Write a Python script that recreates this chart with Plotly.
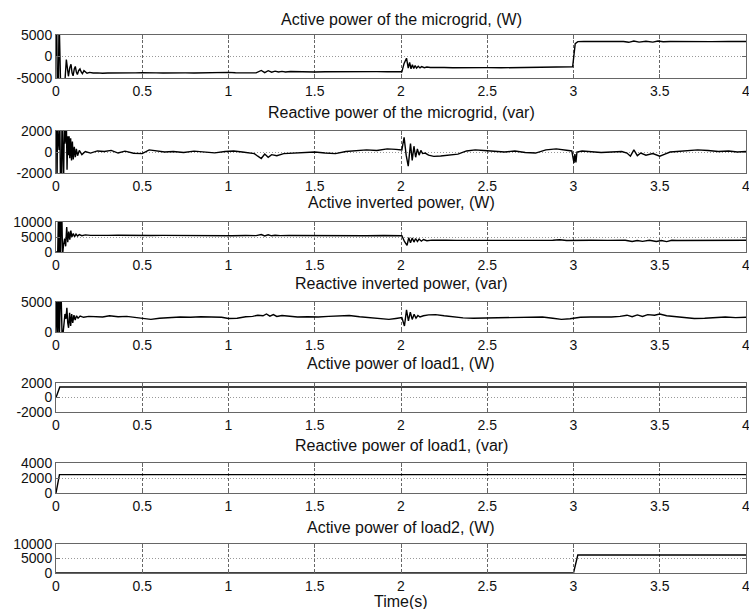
import plotly.graph_objects as go

# ---------------- data ----------------
x_ticks = [0, 0.5, 1, 1.5, 2, 2.5, 3, 3.5, 4]
x_tick_labels = ["0", "0.5", "1", "1.5", "2", "2.5", "3", "3.5", "4"]

# 1. Active power of the microgrid (W)
t_p_mg = [
    0.000, 0.004, 0.008, 0.013, 0.018, 0.021, 0.024, 0.028, 0.040, 0.052,
    0.060, 0.066, 0.072, 0.080, 0.087, 0.093, 0.099, 0.106, 0.112, 0.118,
    0.124, 0.131, 0.139, 0.146, 0.153, 0.162, 0.170, 0.180, 0.195, 0.215,
    0.24, 0.27, 0.30, 0.34, 0.38, 0.42, 0.46, 0.50, 0.54, 0.58,
    0.62, 0.66, 0.70, 0.75, 0.80, 0.85, 0.90, 0.95, 1.00, 1.04,
    1.08, 1.12, 1.16, 1.19, 1.21, 1.23, 1.25, 1.27, 1.29, 1.31,
    1.33, 1.36, 1.40, 1.45, 1.50, 1.56, 1.62, 1.68, 1.74, 1.80,
    1.86, 1.92, 1.97, 2.005, 2.018, 2.032, 2.042, 2.050, 2.058, 2.066,
    2.074, 2.082, 2.090, 2.100, 2.110, 2.120, 2.135, 2.150, 2.170, 2.20,
    2.25, 2.30, 2.36, 2.42, 2.50, 2.58, 2.66, 2.74, 2.82, 2.90,
    2.96, 2.995, 3.010, 3.025, 3.06, 3.12, 3.18, 3.24, 3.29, 3.32,
    3.35, 3.38, 3.42, 3.46, 3.49, 3.52, 3.56, 3.62, 3.70, 3.80,
    3.90, 4.00]
p_mg = [
    0, 9000, -9000, -9000, 9000, 9000, 200, -9000, -7500, -5600,
    -700, -3600, -4600, -2600, -1800, -3800, -4500, -2900, -2300, -3600,
    -4200, -3300, -2900, -3600, -4000, -3300, -3500, -3900, -3700, -3850,
    -3800, -3900, -3820, -3850, -3780, -3870, -3800, -3760, -3850, -3800,
    -3830, -3780, -3850, -3800, -3820, -3760, -3800, -3740, -3700, -3780,
    -3760, -3730, -3800, -3250, -3750, -3300, -3650, -3400, -3600, -3450,
    -3600, -3500, -3560, -3620, -3600, -3560, -3520, -3600, -3560, -3540,
    -3520, -3560, -3540, -3560, -1600, -400, -2700, -1400, -2850, -1900,
    -2800, -2100, -2700, -2250, -2650, -2350, -2600, -2450, -2550, -2500,
    -2560, -2600, -2550, -2600, -2580, -2620, -2560, -2600, -2500, -2480,
    -2450, -2400, 3000, 3450, 3500, 3450, 3520, 3480, 3500, 3300,
    3600, 3350, 3550, 3350, 3600, 3420, 3480, 3450, 3500, 3460,
    3500, 3480]

# 2. Reactive power of the microgrid (var)
t_q_mg = [
    0.000, 0.003, 0.006, 0.009, 0.013, 0.018, 0.022, 0.026, 0.031, 0.035,
    0.039, 0.044, 0.048, 0.052, 0.056, 0.060, 0.064, 0.068, 0.072, 0.076,
    0.080, 0.085, 0.090, 0.095, 0.100, 0.106, 0.112, 0.118, 0.125, 0.135,
    0.15, 0.17, 0.20, 0.24, 0.28, 0.32, 0.36, 0.40, 0.45, 0.50,
    0.54, 0.58, 0.63, 0.68, 0.74, 0.80, 0.86, 0.92, 0.98, 1.03,
    1.08, 1.12, 1.15, 1.17, 1.19, 1.21, 1.23, 1.25, 1.28, 1.32,
    1.37, 1.43, 1.50, 1.56, 1.62, 1.68, 1.74, 1.80, 1.86, 1.92,
    1.97, 2.005, 2.018, 2.030, 2.042, 2.055, 2.065, 2.075, 2.085, 2.095,
    2.105, 2.115, 2.125, 2.14, 2.16, 2.19, 2.23, 2.28, 2.33, 2.38,
    2.43, 2.48, 2.54, 2.60, 2.66, 2.72, 2.78, 2.84, 2.90, 2.95,
    2.99, 3.003, 3.008, 3.014, 3.02, 3.05, 3.10, 3.16, 3.22, 3.28,
    3.31, 3.33, 3.35, 3.37, 3.39, 3.42, 3.46, 3.50, 3.53, 3.56,
    3.60, 3.66, 3.72, 3.78, 3.84, 3.90, 3.95, 4.00]
q_mg = [
    0, 3000, -3000, 3000, 1200, 200, 3000, -3000, -3000, 3000,
    600, -3000, 2600, 800, 1400, 3000, -1700, 1500, -300, 1500,
    -600, 1300, -800, 1000, -700, 500, -500, 300, -350, 150,
    -250, 50, -100, 100, 50, 150, -100, 80, -120, -150,
    200, 100, 0, 50, -50, 80, 0, -80, 50, 100,
    0, -100, -150, -400, -620, -200, -500, -250, -350, -150,
    -100, -50, 0, -100, -150, 50, 100, 200, 150, 300,
    250, 200, 1400, -300, -1350, 800, -800, 550, -500, 300,
    -300, 150, -150, -100, -300, -420, -380, -300, -200, 100,
    200, 150, 50, 0, 100, -50, -100, 200, 300, 200,
    100, -1050, -200, -1000, 0, 100, 50, -50, 0, 50,
    -100, -400, 200, -350, -100, -300, -150, -400, -200, 0,
    50, 100, 200, 150, 50, 100, 0, 50]

# 3. Active inverted power (W)
t_p_inv = [
    0.000, 0.010, 0.014, 0.018, 0.022, 0.026, 0.030, 0.034, 0.038, 0.044,
    0.050, 0.056, 0.062, 0.068, 0.074, 0.080, 0.086, 0.092, 0.100, 0.108,
    0.116, 0.125, 0.135, 0.15, 0.17, 0.20, 0.25, 0.30, 0.36, 0.42,
    0.48, 0.55, 0.62, 0.70, 0.78, 0.86, 0.94, 1.02, 1.10, 1.16,
    1.19, 1.21, 1.23, 1.25, 1.27, 1.30, 1.35, 1.42, 1.50, 1.60,
    1.70, 1.80, 1.90, 1.97, 2.005, 2.020, 2.035, 2.045, 2.055, 2.065,
    2.075, 2.085, 2.095, 2.105, 2.118, 2.13, 2.15, 2.18, 2.22, 2.26,
    2.32, 2.40, 2.50, 2.60, 2.70, 2.80, 2.88, 2.92, 2.96, 3.00,
    3.10, 3.20, 3.30, 3.34, 3.37, 3.40, 3.44, 3.48, 3.51, 3.54,
    3.57, 3.60, 3.70, 3.80, 3.90, 4.00]
p_inv = [
    0, 0, 12000, -1000, 12000, -1000, 12000, 12000, -1000, 2500,
    4500, 1900, 8300, 3300, 6800, 4100, 7100, 5000, 6200, 5100,
    6000, 5300, 5800, 5450, 5700, 5550, 5650, 5550, 5600, 5500,
    5600, 5500, 5550, 5480, 5520, 5450, 5500, 5420, 5480, 5450,
    5800, 5350, 5750, 5400, 5600, 5450, 5500, 5450, 5420, 5480,
    5450, 5420, 5480, 5450, 5400, 3500, 2200, 4800, 3100, 4700,
    3300, 4500, 3500, 4300, 3600, 4150, 3750, 3950, 3850, 3900,
    3880, 3920, 3900, 3880, 3900, 3890, 3900, 4100, 3850, 3900,
    3900, 3880, 3900, 3500, 3850, 3550, 3900, 3500, 3850, 3450,
    3900, 3850, 3880, 3900, 3890, 3900]

# 4. Reactive inverted power (var)
t_q_inv = [
    0.000, 0.005, 0.010, 0.015, 0.020, 0.025, 0.030, 0.035, 0.040, 0.046,
    0.052, 0.058, 0.063, 0.068, 0.073, 0.079, 0.085, 0.091, 0.097, 0.104,
    0.111, 0.119, 0.128, 0.14, 0.16, 0.19, 0.23, 0.27, 0.31, 0.36,
    0.41, 0.46, 0.50, 0.55, 0.60, 0.66, 0.72, 0.78, 0.84, 0.90,
    0.96, 1.00, 1.05, 1.10, 1.14, 1.17, 1.20, 1.22, 1.24, 1.26,
    1.28, 1.31, 1.35, 1.40, 1.46, 1.52, 1.58, 1.64, 1.70, 1.76,
    1.82, 1.88, 1.93, 1.97, 2.005, 2.020, 2.032, 2.043, 2.054, 2.065,
    2.076, 2.087, 2.098, 2.11, 2.13, 2.16, 2.20, 2.25, 2.30, 2.36,
    2.42, 2.50, 2.58, 2.66, 2.74, 2.82, 2.88, 2.93, 2.98, 3.04,
    3.10, 3.16, 3.22, 3.27, 3.31, 3.34, 3.37, 3.40, 3.43, 3.47,
    3.50, 3.54, 3.58, 3.64, 3.70, 3.76, 3.82, 3.88, 3.94, 4.00]
q_inv = [
    0, 6000, -500, 6000, -500, 6000, 6000, -500, -500, 1500,
    3000, 2200, 4050, 1500, 700, 3200, 1000, 3000, 1500, 2800,
    2000, 2700, 2300, 2650, 2450, 2600, 2550, 2500, 2700, 2550,
    2600, 2450, 2250, 2100, 2300, 2400, 2500, 2450, 2550, 2500,
    2450, 2250, 2300, 2550, 2600, 2800, 2700, 3000, 2650, 2900,
    2600, 2750, 2600, 2500, 2550, 2500, 2600, 2700, 2750, 2550,
    2350, 2200, 2100, 2250, 2400, 1000, 3700, 1850, 3300, 2100,
    2950, 2300, 2750, 2500, 2700, 2850, 2900, 2700, 2500, 2350,
    2300, 2350, 2400, 2450, 2550, 2500, 2300, 2100, 2200, 2450,
    2500, 2450, 2500, 2600, 2800, 2550, 2850, 2600, 2900, 2800,
    3000, 2700, 2600, 2500, 2250, 2300, 2450, 2500, 2400, 2450]

# 5. Active power of load1 (W)
t_p_l1 = [0.0, 0.022, 4.0]
p_l1 = [0, 1450, 1450]

# 6. Reactive power of load1 (var)
t_q_l1 = [0.0, 0.020, 4.0]
q_l1 = [0, 2450, 2450]

# 7. Active power of load2 (W)
t_p_l2 = [0.0, 3.0, 3.025, 4.0]
p_l2 = [0, 0, 6200, 6200]

titles = [
    "Active power of the microgrid, (W)",
    "Reactive power of the microgrid, (var)",
    "Active inverted power, (W)",
    "Reactive inverted power, (var)",
    "Active power of load1, (W)",
    "Reactive power of load1, (var)",
    "Active power of load2, (W)",
]
y_ranges = [[-5000, 5000], [-2000, 2000], [0, 10000], [0, 5000],
            [-2000, 2000], [0, 4000], [0, 10000]]
y_ticks = [[-5000, 0, 5000], [-2000, 0, 2000], [0, 5000, 10000], [0, 5000],
           [-2000, 0, 2000], [0, 2000, 4000], [0, 5000, 10000]]
series = [(t_p_mg, p_mg), (t_q_mg, q_mg), (t_p_inv, p_inv), (t_q_inv, q_inv),
          (t_p_l1, p_l1), (t_q_l1, q_l1), (t_p_l2, p_l2)]
x_title = "Time(s)"

# ---------------- layout (pixels) ----------------
W, H = 749, 609
ML, MR = 56, 3
boxes = [(35, 78), (131, 173), (222, 252), (302, 332), (383, 412), (463, 493), (544, 573)]
title_y = [20, 112, 202, 283, 363, 445, 527]
FONT = "Liberation Sans, Arial, sans-serif"
TICK_SIZE = 14
TITLE_SIZE = 16

fig = go.Figure()
layout = dict(
    width=W, height=H,
    margin=dict(l=ML, r=MR, t=0, b=0, autoexpand=False),
    paper_bgcolor="white", plot_bgcolor="white",
    showlegend=False,
    font=dict(family=FONT, size=TICK_SIZE, color="#111"),
)
annotations = []
for i, ((t, v), yr, yt, ttl) in enumerate(zip(series, y_ranges, y_ticks, titles)):
    n = i + 1
    xs = "x" if n == 1 else f"x{n}"
    ys = "y" if n == 1 else f"y{n}"
    fig.add_trace(go.Scatter(x=t, y=v, mode="lines", xaxis=xs, yaxis=ys,
                             line=dict(color="black", width=1.4),
                             hoverinfo="skip"))
    top, bot = boxes[i]
    layout["xaxis" if n == 1 else f"xaxis{n}"] = dict(
        domain=[0, 1], range=[0, 4], anchor=ys, automargin=False,
        tickmode="array", tickvals=x_ticks, ticktext=x_tick_labels,
        ticklabeloverflow="allow",
        showgrid=True, gridcolor="#666", griddash="3px,2px", gridwidth=1,
        showline=True, linecolor="#666", linewidth=1, mirror="ticks",
        ticks="inside", ticklen=4, tickcolor="#666",
        zeroline=False, tickfont=dict(size=TICK_SIZE, family=FONT, color="#111"),
        fixedrange=True,
    )
    layout["yaxis" if n == 1 else f"yaxis{n}"] = dict(
        domain=[1 - bot / H, 1 - top / H], range=yr, anchor=xs, automargin=False,
        tickmode="array", tickvals=yt, ticktext=[str(k) for k in yt],
        ticklabeloverflow="allow",
        showgrid=True, gridcolor="#999", griddash="1px,2px", gridwidth=1,
        showline=True, linecolor="#666", linewidth=1, mirror="ticks",
        ticks="inside", ticklen=4, tickcolor="#666",
        zeroline=False, tickfont=dict(size=TICK_SIZE, family=FONT, color="#111"),
        fixedrange=True,
    )
    annotations.append(dict(text=ttl, xref="paper", yref="paper",
                            x=0.5, y=1 - title_y[i] / H, showarrow=False,
                            xanchor="center", yanchor="middle",
                            font=dict(size=TITLE_SIZE, family=FONT, color="#111")))
annotations.append(dict(text=x_title, xref="paper", yref="paper",
                        x=0.5, y=1 - 601 / H, showarrow=False,
                        xanchor="center", yanchor="middle",
                        font=dict(size=TITLE_SIZE, family=FONT, color="#111")))
layout["annotations"] = annotations
fig.update_layout(**layout)
fig.write_html(
    "out.html",
    config={"displayModeBar": False, "staticPlot": True},
    post_script="document.body.style.margin='0';document.body.style.padding='0';"
                "document.body.style.overflow='hidden';",
)
